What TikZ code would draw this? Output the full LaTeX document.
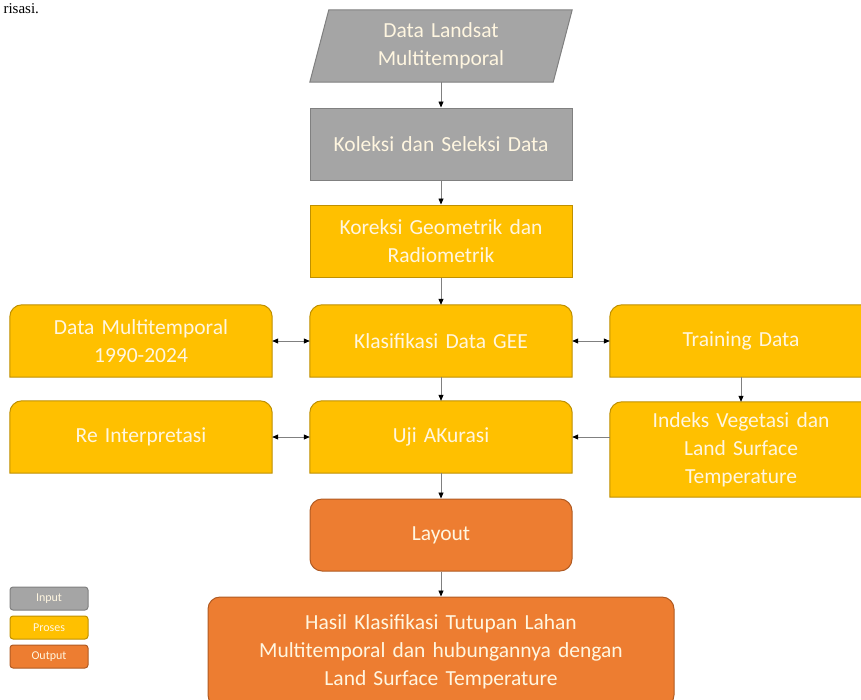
\documentclass[tikz,border=0pt]{standalone}
\usepackage{fontspec}
\setmainfont{Carlito}
\newfontfamily\docserif{Liberation Serif}
\usetikzlibrary{arrows.meta,backgrounds}

\definecolor{inputgray}{HTML}{A5A5A5}
\definecolor{inputline}{HTML}{808080}
\definecolor{prosesyellow}{HTML}{FFC000}
\definecolor{prosesline}{HTML}{BF9000}
\definecolor{outputorange}{HTML}{ED7D31}
\definecolor{outputline}{HTML}{B05A22}
\definecolor{boxtext}{HTML}{FFF6E0}

\tikzset{
	>={Triangle[length=6pt,width=5pt,color=black]},
	flowbox/.style={minimum width=262pt, minimum height=72pt, text width=256pt, align=center, text=boxtext, font=\fontsize{21.5}{28}\selectfont, inner sep=0pt},
	grayfill/.style={fill=inputgray, draw=inputline, line width=1pt},
	yellowfill/.style={fill=prosesyellow, draw=prosesline, line width=1pt},
	orangefill/.style={fill=outputorange, draw=outputline, line width=1pt, rounded corners=12pt},
	legendbox/.style={minimum width=78pt, minimum height=23pt, inner sep=0pt, rounded corners=3pt, line width=1pt, text=boxtext, font=\fontsize{12}{14}\selectfont},
	flowarrow/.style={draw=black!50, line width=0.8pt}
}

% box with rounded top corners, drawn behind a node
\newcommand\topround[2]{\draw[#2] (#1.south west) -- ([yshift=-12pt]#1.north west) arc[start angle=180,end angle=90,radius=12pt] -- ([xshift=-12pt]#1.north east) arc[start angle=90,end angle=0,radius=12pt] -- (#1.south east) -- cycle;}

\begin{document}
\begin{tikzpicture}[x=1pt,y=-1pt]
	\useasboundingbox (0,0) rectangle (861,699);
	\node[anchor=base west, font=\docserif\fontsize{15}{18}\selectfont] (caption) at (0,13) {risasi.};

	% main column
	\node[flowbox] (landsat) at (441,46) {Data Landsat\\Multitemporal};
	\node[flowbox, grayfill] (koleksi) at (441,144) {Koleksi dan Seleksi Data};
	\node[flowbox, yellowfill] (koreksi) at (441,241) {Koreksi Geometrik dan\\Radiometrik};
	\node[flowbox] (klasifikasi) at (441,341) {Klasifikasi Data GEE};
	\node[flowbox] (uji) at (441,437) {Uji AKurasi};
	\node[flowbox, orangefill] (layout) at (441,535) {Layout};
	\node[flowbox, orangefill, minimum width=466pt, minimum height=110pt, text width=460pt] (hasil) at (441,652) {Hasil Klasifikasi Tutupan Lahan\\Multitemporal dan hubungannya dengan\\Land Surface Temperature};

	% side boxes
	\node[flowbox] (multitemporal) at (141,341) {Data Multitemporal\\1990-2024};
	\node[flowbox] (reinterpretasi) at (141,437) {Re Interpretasi};
	\node[flowbox] (training) at (741,341) {Training Data};
	\node[flowbox, minimum height=95pt] (indeks) at (741,449.5) {Indeks Vegetasi dan\\Land Surface\\Temperature};

	\begin{scope}[on background layer]
		\fill[grayfill] (landsat.south west) -- ([xshift=19pt]landsat.north west) -- (landsat.north east) -- ([xshift=-19pt]landsat.south east) -- cycle;
		\topround{klasifikasi}{yellowfill}
		\topround{uji}{yellowfill}
		\topround{multitemporal}{yellowfill}
		\topround{reinterpretasi}{yellowfill}
		\topround{training}{yellowfill}
		\topround{indeks}{yellowfill}
	\end{scope}

	% legend
	\node[legendbox, fill=inputgray, draw=inputline] (leginput) at (49,598.5) {Input};
	\node[legendbox, fill=prosesyellow, draw=prosesline] (legproses) at (49,627.5) {Proses};
	\node[legendbox, fill=outputorange, draw=outputline] (legoutput) at (49,656.5) {Output};

	% connectors
	\draw[flowarrow, ->] (landsat) -- (koleksi);
	\draw[flowarrow, ->] (koleksi) -- (koreksi);
	\draw[flowarrow, ->] (koreksi) -- (klasifikasi);
	\draw[flowarrow, <->] (multitemporal) -- (klasifikasi);
	\draw[flowarrow, <->] (klasifikasi) -- (training);
	\draw[flowarrow, ->] (training) -- (training.south |- indeks.north);
	\draw[flowarrow, ->] (klasifikasi) -- (uji);
	\draw[flowarrow, ->] (indeks.west |- uji) -- (uji);
	\draw[flowarrow, <->] (reinterpretasi) -- (uji);
	\draw[flowarrow, ->] (uji) -- (layout);
	\draw[flowarrow, ->] (layout) -- (hasil);
\end{tikzpicture}
\end{document}
